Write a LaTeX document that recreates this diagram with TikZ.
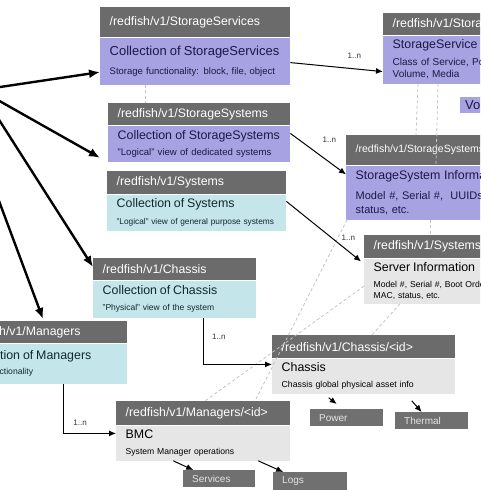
\documentclass[tikz,border=0pt]{standalone}
\usepackage{fontspec}
\setmainfont{Liberation Sans}
\usepackage{xcolor}
\usetikzlibrary{arrows.meta,positioning}
\definecolor{HeadGray}{HTML}{6B6B6B}
\definecolor{StorPurple}{HTML}{A7A2E2}
\definecolor{PurpleInk}{HTML}{1C1845}
\definecolor{SysCyan}{HTML}{C4E5E9}
\definecolor{CyanInk}{HTML}{10292E}
\definecolor{InfoGray}{HTML}{E6E6E6}
\definecolor{SubGray}{HTML}{707070}
\definecolor{SubInk}{HTML}{E4E4E4}
\definecolor{DashGray}{HTML}{C4C4C4}
\newcommand{\rftitle}[2][12.4]{{\fontsize{#1}{14}\selectfont #2}}

\begin{document}
\begin{tikzpicture}[x=1pt, y=-1pt,
  hdr/.style={fill=HeadGray, text=white, anchor=north west, inner xsep=9.5pt, inner ysep=0pt, align=left, font=\fontsize{12.3}{14}\selectfont},
  bodyp/.style={fill=StorPurple, text=PurpleInk, anchor=north west, inner xsep=9.5pt, inner ysep=0pt, align=left},
  bodyc/.style={bodyp, fill=SysCyan, text=CyanInk},
  bodyg/.style={bodyp, fill=InfoGray, text=black},
  sub/.style={fill=SubGray, text=SubInk, anchor=north west, inner xsep=9pt, inner ysep=0pt, align=left, font=\fontsize{10}{12}\selectfont},
  link/.style={-{Latex[length=7pt,width=6pt]}, line width=1pt},
  fan/.style={-{Latex[length=11pt,width=9pt]}, line width=2.4pt},
  ref/.style={draw=DashGray, line width=0.8pt, dash pattern=on 3pt off 2.5pt},
  tag/.style={font=\fontsize{8}{9}\selectfont, text=black!80, inner sep=1pt}
]
\useasboundingbox (0,0) rectangle (480,490);
\fill[white] (0,0) rectangle (480,490);
\clip (0,0) rectangle (480,490);

% storage
\node[hdr, text width=171pt, minimum height=30pt] (svcsHead) at (100,7) {/redfish/v1/StorageServices};
\node[bodyp, text width=171pt, minimum height=47pt, font=\fontsize{9.5}{12}\selectfont] (svcsBody) at (svcsHead.south west) {\rftitle[13]{Collection of StorageServices}\\[7pt]Storage functionality: block, file, object};

\node[hdr, text width=198pt, minimum height=22pt] (svcHead) at (383,13) {/redfish/v1/StorageServices/<id>};
\node[bodyp, text width=198pt, minimum height=48pt, font=\fontsize{10}{12}\selectfont] (svcBody) at (svcHead.south west) {\rftitle{StorageService}\\[5pt]Class of Service, Policy,\\Volume, Media};
\node[bodyp, text width=40pt, minimum height=16pt, inner xsep=5pt, font=\fontsize{13}{14}\selectfont] (vol) at (460,97) {Volumes};

\node[hdr, text width=163pt, minimum height=22pt] (systsHead) at (108,103) {/redfish/v1/StorageSystems};
\node[bodyp, text width=163pt, minimum height=36pt, font=\fontsize{9.6}{12}\selectfont] (systsBody) at (systsHead.south west) {\rftitle{Collection of StorageSystems}\\[4pt]"Logical" view of dedicated systems};

\node[hdr, text width=195pt, minimum height=30pt, font=\fontsize{10.5}{12}\selectfont] (sysInfoHead) at (346,135) {/redfish/v1/StorageSystems/<id>};
\node[bodyp, text width=195pt, minimum height=54pt, font=\fontsize{11}{14}\selectfont] (sysInfoBody) at (sysInfoHead.south west) {\rftitle{StorageSystem Information}\\[6.5pt]Model \#, Serial \#,\ \ UUIDs,\\status, etc.};

% systems
\node[hdr, text width=160pt, minimum height=23pt] (systemsHead) at (107,171) {/redfish/v1/Systems};
\node[bodyc, text width=160pt, minimum height=36pt, font=\fontsize{8.3}{11}\selectfont] (systemsBody) at (systemsHead.south west) {\rftitle{Collection of Systems}\\[6.5pt]"Logical" view of general purpose systems};

\node[hdr, text width=180pt, minimum height=23pt] (srvInfoHead) at (364,235) {/redfish/v1/Systems/<id>};
\node[bodyg, text width=180pt, minimum height=45pt, font=\fontsize{8.6}{11}\selectfont] (srvInfoBody) at (srvInfoHead.south west) {\rftitle{Server Information}\\[4.5pt]Model \#, Serial \#, Boot Order,\\MAC, status, etc.};

% chassis
\node[hdr, text width=144pt, minimum height=22pt] (chassisCollHead) at (93,258) {/redfish/v1/Chassis};
\node[bodyc, text width=144pt, minimum height=37pt, font=\fontsize{8.5}{11}\selectfont] (chassisCollBody) at (chassisCollHead.south west) {\rftitle{Collection of Chassis}\\[4.5pt]"Physical" view of the system};

\node[hdr, text width=164pt, minimum height=23pt] (chassisHead) at (272,335) {/redfish/v1/Chassis/<id>};
\node[bodyg, text width=164pt, minimum height=35pt, font=\fontsize{8.7}{11}\selectfont] (chassisBody) at (chassisHead.south west) {\rftitle{Chassis}\\[4.5pt]Chassis global physical asset info};
\node[sub, text width=55pt, minimum height=17pt] (power) at (310,409) {Power};
\node[sub, text width=55pt, minimum height=17pt] (thermal) at (395,412) {Thermal};

% managers
\node[hdr, text width=152pt, minimum height=22pt] (mgrsHead) at (-44,321) {/redfish/v1/Managers};
\node[bodyc, text width=152pt, minimum height=40pt, font=\fontsize{8.6}{11}\selectfont] (mgrsBody) at (mgrsHead.south west) {\rftitle{Collection of Managers}\\[4.5pt]BMC functionality};

\node[hdr, text width=155pt, minimum height=24pt] (bmcHead) at (116,401) {/redfish/v1/Managers/<id>};
\node[bodyg, text width=155pt, minimum height=35pt, font=\fontsize{8.6}{11}\selectfont] (bmcBody) at (bmcHead.south west) {\rftitle{BMC}\\[5.5pt]System Manager operations};
\node[sub, text width=54pt, minimum height=17pt] (services) at (183,470) {Services};
\node[sub, text width=56pt, minimum height=18pt] (logs) at (273,472) {Logs};

% dashed references
\draw[ref] ([xshift=45pt]svcsBody.south west) -- ([xshift=37pt]systsHead.north west);
\draw[ref] ([xshift=35pt]svcBody.south west) -- ([xshift=70pt]sysInfoHead.north west);
\draw[ref] ([xshift=55pt]svcBody.south west) -- ([xshift=90pt]sysInfoBody.north west);
\draw[ref] ([xshift=84pt]sysInfoBody.south west) -- ([xshift=66pt]srvInfoHead.north west);
\draw[ref] ([xshift=1pt]sysInfoBody.south west) -- ([xshift=139pt]bmcHead.north west);
\draw[ref] ([yshift=-5pt]srvInfoBody.west) -- ([xshift=89pt]bmcHead.north west);
\draw[ref] ([xshift=36pt]srvInfoBody.south west) -- ([xshift=100pt]chassisHead.north west);

% from the service root
\coordinate (root) at (-20,90);
\coordinate (rootLow) at (-20,150);
\draw[fan] (root) -- ([yshift=-11pt]svcsBody.west);
\draw[fan] (root) -- ([shift={(-8pt,4pt)}]systsBody.south west);
\draw[fan] (root) -- ([yshift=-9pt]chassisCollHead.north west);
\draw[fan] (rootLow) -- ([shift={(87pt,2pt)}]mgrsHead.north west);

% members
\draw[link] ([yshift=-1.5pt]svcsBody.east) -- node[tag, pos=.69, above=9pt] {1..n} ([yshift=-12pt]svcBody.west);
\draw[link] ([yshift=-8pt]systsBody.north east) -- node[tag, pos=.7, above=18pt] {1..n} ([yshift=-9pt]sysInfoBody.north west);
\draw[link] ([yshift=-7pt]systemsBody.north east) -- node[tag, pos=.83, above=9.5pt] {1..n} ([shift={(-3pt,-3pt)}]srvInfoBody.north west);
\draw[link] ([xshift=29pt]chassisCollBody.south) |- node[tag, pos=.2, right=7pt] {1..n} ([yshift=-6pt]chassisBody.north west);
\draw[link] ([xshift=21.5pt]mgrsBody.south) |- node[tag, pos=.66, above=6pt] {1..n} ([yshift=-8pt]bmcBody.north west);
\draw[link] ([shift={(-35pt,-4pt)}]chassisBody.south) -- ([shift={(-10pt,5pt)}]power.north);
\draw[link] ([shift={(48pt,-7pt)}]chassisBody.south) -- ([xshift=-10pt]thermal.north);
\draw[link] ([xshift=-30pt]bmcBody.south) -- ([xshift=-26pt]services.north);
\draw[link] ([xshift=55pt]bmcBody.south) -- ([xshift=-27pt]logs.north);
\end{tikzpicture}
\end{document}
